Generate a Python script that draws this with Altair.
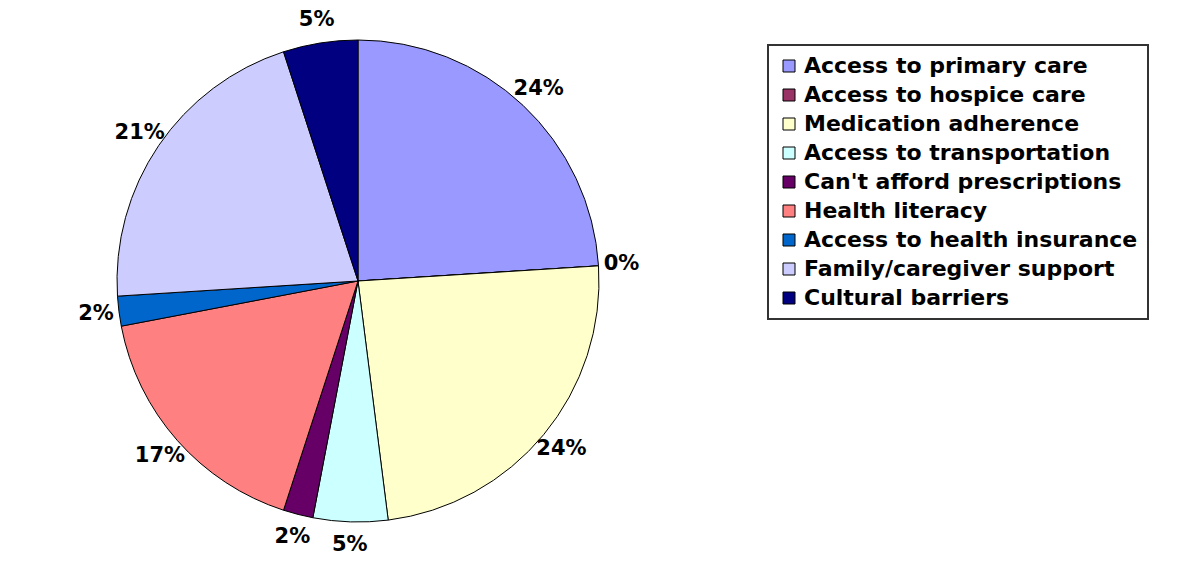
import altair as alt
import pandas as pd

categories = [
    "Access to primary care",
    "Access to hospice care",
    "Medication adherence",
    "Access to transportation",
    "Can't afford prescriptions",
    "Health literacy",
    "Access to health insurance",
    "Family/caregiver support",
    "Cultural barriers",
]
values = [24, 0, 24, 5, 2, 17, 2, 21, 5]
labels = ["24%", "0%", "24%", "5%", "2%", "17%", "2%", "21%", "5%"]
colors = ["#9999FF", "#993366", "#FFFFCC", "#CCFFFF", "#660066",
          "#FF8080", "#0066CC", "#CCCCFF", "#000080"]

df = pd.DataFrame({
    "category": categories,
    "value": values,
    "label": labels,
    "order": list(range(len(categories))),
})

FONT = "DejaVu Sans"
CX, CY = 350, 273

base = alt.Chart(df).encode(
    theta=alt.Theta("value:Q", stack=True),
    order=alt.Order("order:Q"),
)

pie = base.mark_arc(stroke="black", strokeWidth=1, outerRadius=241).encode(
    x=alt.value(CX),
    y=alt.value(CY),
    color=alt.Color(
        "category:N",
        scale=alt.Scale(domain=categories, range=colors),
        sort=categories,
        legend=alt.Legend(
            title=None,
            orient="none",
            legendX=760,
            legendY=37,
            symbolType="square",
            symbolSize=144,
            symbolStrokeColor="black",
            symbolStrokeWidth=1,
            labelFont=FONT,
            labelFontWeight="bold",
            labelFontSize=22,
            labelColor="black",
            labelLimit=500,
            labelOffset=4,
            rowPadding=7,
            strokeColor="#333333",
            padding=10,
            symbolOffset=0,
        ),
    ),
)

text = base.mark_text(
    radius=264, font=FONT, fontWeight="bold", fontSize=21, color="black"
).encode(
    x=alt.value(CX),
    y=alt.value(CY),
    text="label:N",
)

chart = (
    alt.layer(pie, text)
    .properties(width=1175, height=547, padding=0, autosize="none")
    .configure_view(stroke=None)
    .configure_legend(strokeWidth=2)
)

chart.save("out.html", embed_options={"renderer": "svg", "actions": False})
